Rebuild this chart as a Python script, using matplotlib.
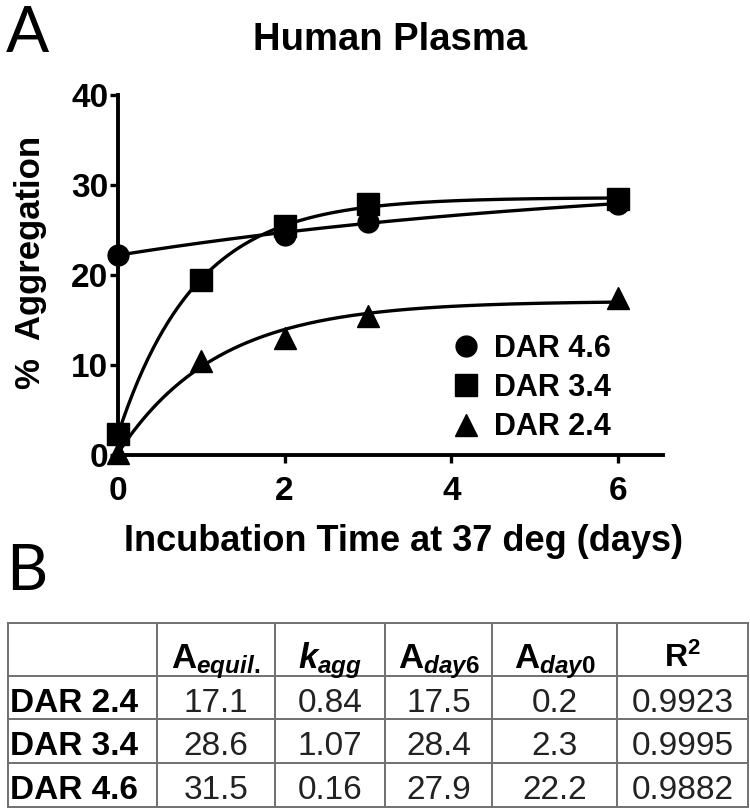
import numpy as np
import matplotlib
matplotlib.use("Agg")
import matplotlib.pyplot as plt

plt.rcParams['font.family'] = ['Liberation Sans', 'DejaVu Sans']
plt.rcParams['mathtext.fontset'] = 'custom'
plt.rcParams['mathtext.rm'] = 'Liberation Sans:bold'
plt.rcParams['mathtext.bf'] = 'Liberation Sans:bold'
plt.rcParams['mathtext.it'] = 'Liberation Sans:italic:bold'

# ---------------- data ----------------
series_labels = ["DAR 4.6", "DAR 3.4", "DAR 2.4"]
series_markers = ["o", "s", "^"]

t_dar46 = [0, 2, 3, 6]
y_dar46 = [22.2, 24.4, 25.9, 27.9]
t_dar34 = [0, 1, 2, 3, 6]
y_dar34 = [2.3, 19.5, 25.4, 27.9, 28.4]
t_dar24 = [0, 1, 2, 3, 6]
y_dar24 = [0.2, 10.4, 13.0, 15.4, 17.4]

x_ticks = [0, 2, 4, 6]
y_ticks = [0, 10, 20, 30, 40]

# table (panel B)
table_rows = ["DAR 2.4", "DAR 3.4", "DAR 4.6"]
table_cols = [r"$\mathbf{A}_{equil.}$", r"$k_{agg}$", r"$\mathbf{A}_{day6}$",
              r"$\mathbf{A}_{day0}$", r"$\mathbf{R}^{\mathbf{2}}$"]
a_equil = [17.1, 28.6, 31.5]
k_agg = [0.84, 1.07, 0.16]
a_day6 = [17.5, 28.4, 27.9]
a_day0 = [0.2, 2.3, 22.2]
r_squared = [0.9923, 0.9995, 0.9882]

# ---------------- figure ----------------
W, H = 750, 810
fig = plt.figure(figsize=(7.5, 8.1), dpi=100)

def fx(x):
    return x / W

def fy(y):
    return 1 - y / H

ax = fig.add_axes([fx(118), fy(455), fx(663) - fx(118), fy(95) - fy(455)])
ax.set_xlim(0, 6.54)
ax.set_ylim(0, 40)
for s in ["top", "right"]:
    ax.spines[s].set_visible(False)
for s in ["left", "bottom"]:
    ax.spines[s].set_linewidth(2.8)
ax.set_xticks(x_ticks)
ax.set_yticks(y_ticks)
ax.tick_params(axis="both", width=2.4, length=6, labelsize=24)
ax.tick_params(axis="x", pad=9)
ax.tick_params(axis="y", pad=1)
for lab in ax.get_xticklabels() + ax.get_yticklabels():
    lab.set_fontweight("bold")

# fitted curves from table parameters (A_eq - (A_eq - A0) exp(-k t))
tt = np.linspace(0, 6, 300)
fit_params = [(a_equil[2], k_agg[2], a_day0[2]),
              (a_equil[1], k_agg[1], a_day0[1]),
              (a_equil[0], k_agg[0], a_day0[0])]
for aeq, k, a0 in fit_params:
    ax.plot(tt, aeq - (aeq - a0) * np.exp(-k * tt), color="black", lw=2.4,
            clip_on=False, zorder=3)

handles = []
for (tx, ty), m, lab, ms in zip([(t_dar46, y_dar46), (t_dar34, y_dar34), (t_dar24, y_dar24)],
                                series_markers, series_labels, [15, 16, 16]):
    h, = ax.plot(tx, ty, linestyle="none", marker=m, ms=ms, color="black",
                 clip_on=False, zorder=4, label=lab)
    handles.append(h)

leg = ax.legend(handles=handles, loc="upper left",
                bbox_to_anchor=(fx(451), fy(334)), bbox_transform=fig.transFigure,
                frameon=False, borderpad=0, borderaxespad=0, handlelength=1.0,
                handletextpad=0.4, labelspacing=0.3, numpoints=1,
                prop={"weight": "bold", "size": 22})

fig.text(fx(390), fy(50), "Human Plasma", ha="center", va="baseline",
         fontsize=27.5, fontweight="bold")
fig.text(fx(403), fy(551), "Incubation Time at 37 deg (days)", ha="center",
         va="baseline", fontsize=26, fontweight="bold")
fig.text(fx(31), fy(262), "%  Aggregation", ha="center", va="center",
         rotation=90, fontsize=25, fontweight="bold")

fig.text(fx(6), fy(52), "A", fontsize=46, family=["Lato", "DejaVu Sans"],
         va="baseline", ha="left")
fig.text(fx(6), fy(590), "B", fontsize=46, family=["Lato", "DejaVu Sans"],
         va="baseline", ha="left")

# ---------------- table ----------------
tax = fig.add_axes([0, 0, 1, 1], zorder=-1)
tax.set_xlim(0, W)
tax.set_ylim(H, 0)
tax.axis("off")

col_edges = [8, 157, 275, 385, 492, 617, 748]
row_edges = [623, 676, 719, 763, 807]
grid_color = "#707070"
for xe in col_edges:
    tax.plot([xe, xe], [row_edges[0], row_edges[-1]], color=grid_color, lw=1.4)
for ye in row_edges:
    tax.plot([col_edges[0], col_edges[-1]], [ye, ye], color=grid_color, lw=1.4)

# header
for j, lab in enumerate(table_cols):
    cx = (col_edges[j + 1] + col_edges[j + 2]) / 2
    if j == len(table_cols) - 1:
        tax.text(cx, 667, lab, ha="center", va="baseline", fontsize=23)
    else:
        tax.text(cx, 668, lab, ha="center", va="baseline", fontsize=25)

cols_vals = [a_equil, k_agg, a_day6, a_day0, r_squared]
fmts = ["{:.1f}", "{:.2f}", "{:.1f}", "{:.1f}", "{:.4f}"]
for i, rl in enumerate(table_rows):
    base = row_edges[i + 1] + 36
    tax.text(10, base, rl, ha="left", va="baseline", fontsize=24,
             fontweight="bold")
    for j, (vals, f) in enumerate(zip(cols_vals, fmts)):
        cx = (col_edges[j + 1] + col_edges[j + 2]) / 2
        tax.text(cx, base, f.format(vals[i]), ha="center", va="baseline",
                 fontsize=24, color="#222222")

fig.savefig("out.png", dpi=100)
